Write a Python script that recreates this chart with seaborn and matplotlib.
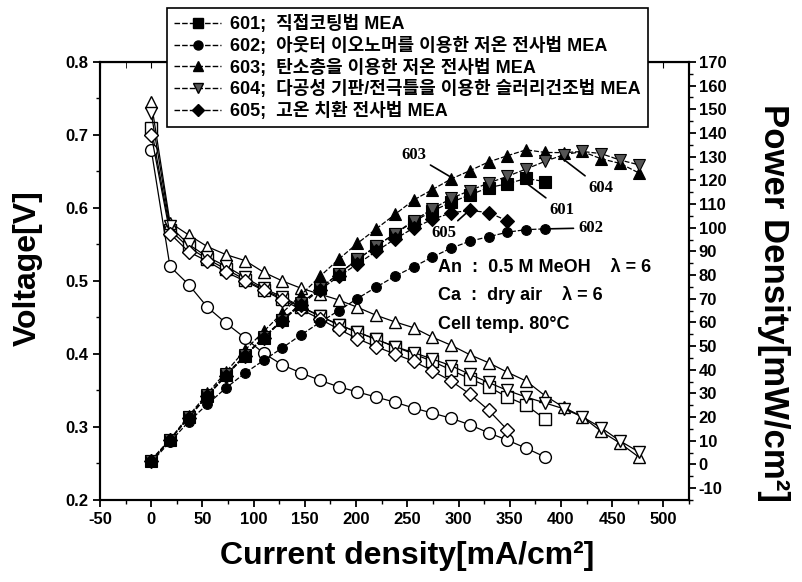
import matplotlib
matplotlib.use('Agg')
import matplotlib.pyplot as plt
import seaborn as sns
from matplotlib.lines import Line2D
from matplotlib.ticker import MultipleLocator

# current density [mA/cm2] of each sample
cur_601 = [0, 18.3, 36.6, 54.9, 73.2, 91.5, 109.8, 128.1, 146.4, 164.7, 183.0, 201.3,
           219.6, 237.9, 256.2, 274.5, 292.8, 311.1, 329.4, 347.7, 366.0, 384.3]
cur_602 = [0, 18.3, 36.6, 54.9, 73.2, 91.5, 109.8, 128.1, 146.4, 164.7, 183.0, 201.3,
           219.6, 237.9, 256.2, 274.5, 292.8, 311.1, 329.4, 347.7, 366.0, 384.3]
cur_603 = [0, 18.3, 36.6, 54.9, 73.2, 91.5, 109.8, 128.1, 146.4, 164.7, 183.0, 201.3,
           219.6, 237.9, 256.2, 274.5, 292.8, 311.1, 329.4, 347.7, 366.0, 384.3,
           402.6, 420.9, 439.2, 457.5, 475.8]
cur_604 = [0, 18.3, 36.6, 54.9, 73.2, 91.5, 109.8, 128.1, 146.4, 164.7, 183.0, 201.3,
           219.6, 237.9, 256.2, 274.5, 292.8, 311.1, 329.4, 347.7, 366.0, 384.3,
           402.6, 420.9, 439.2, 457.5, 475.8]
cur_605 = [0, 18.3, 36.6, 54.9, 73.2, 91.5, 109.8, 128.1, 146.4, 164.7, 183.0, 201.3,
           219.6, 237.9, 256.2, 274.5, 292.8, 311.1, 329.4, 347.7]

# cell voltage [V]
volt_601 = [0.71, 0.57, 0.546, 0.53, 0.516, 0.502, 0.488, 0.476, 0.464, 0.452, 0.44, 0.43,
            0.42, 0.41, 0.40, 0.39, 0.378, 0.366, 0.355, 0.341, 0.33, 0.311]
volt_602 = [0.68, 0.52, 0.495, 0.464, 0.442, 0.422, 0.401, 0.385, 0.374, 0.364, 0.355, 0.348,
            0.341, 0.334, 0.326, 0.319, 0.312, 0.303, 0.292, 0.282, 0.271, 0.259]
volt_603 = [0.745, 0.58, 0.563, 0.547, 0.536, 0.528, 0.512, 0.50, 0.49, 0.482, 0.474, 0.464,
            0.453, 0.444, 0.436, 0.423, 0.412, 0.399, 0.388, 0.375, 0.363, 0.343,
            0.327, 0.314, 0.294, 0.278, 0.259]
volt_604 = [0.73, 0.575, 0.55, 0.533, 0.52, 0.505, 0.49, 0.478, 0.465, 0.452, 0.44, 0.43,
            0.42, 0.41, 0.402, 0.393, 0.384, 0.372, 0.361, 0.35, 0.341, 0.333,
            0.325, 0.314, 0.299, 0.281, 0.266]
volt_605 = [0.70, 0.565, 0.54, 0.527, 0.512, 0.50, 0.487, 0.474, 0.461, 0.448, 0.434, 0.421,
            0.41, 0.40, 0.39, 0.377, 0.363, 0.345, 0.323, 0.296]

# power density [mW/cm2]
pow_601 = [1.5, 10.4, 20.0, 29.1, 37.8, 45.9, 53.6, 61.0, 67.9, 74.4, 80.5, 86.6,
           92.2, 97.5, 102.5, 107.1, 110.7, 113.9, 116.9, 118.6, 120.8, 119.5]
pow_602 = [1.0, 9.5, 18.1, 25.5, 32.4, 38.6, 44.0, 49.3, 54.8, 60.0, 65.0, 70.1,
           74.9, 79.5, 83.5, 87.6, 91.4, 94.3, 96.2, 98.1, 99.2, 99.5]
pow_603 = [2.0, 10.6, 20.6, 30.0, 39.2, 48.3, 56.2, 64.1, 71.7, 79.4, 86.7, 93.4,
           99.5, 105.6, 111.7, 116.1, 120.6, 124.1, 127.8, 130.4, 132.9, 131.8,
           131.7, 132.2, 129.1, 127.2, 123.2]
pow_604 = [1.5, 10.5, 20.1, 29.3, 38.1, 46.2, 53.8, 61.2, 68.1, 74.4, 80.5, 86.6,
           92.2, 97.5, 103.0, 107.9, 112.4, 115.7, 118.9, 121.7, 124.8, 128.0,
           130.8, 132.2, 131.3, 128.6, 126.6]
pow_605 = [1.5, 10.3, 19.8, 28.9, 37.5, 45.8, 53.5, 60.7, 67.5, 73.8, 79.4, 84.7,
           90.0, 95.2, 99.9, 103.5, 106.3, 107.3, 106.4, 102.9]

codes = ['601', '602', '603', '604', '605']
names = ['직접코팅법 MEA',
         '아웃터 이오노머를 이용한 저온 전사법 MEA',
         '탄소층을 이용한 저온 전사법 MEA',
         '다공성 기판/전극틀을 이용한 슬러리건조법 MEA',
         '고온 치환 전사법 MEA']

sns.set_style('ticks')
plt.rcParams['font.family'] = ['Liberation Sans', 'Noto Sans CJK KR', 'DejaVu Sans']
plt.rcParams['font.weight'] = 'bold'
plt.rcParams['axes.unicode_minus'] = False
for key in ['text.color', 'axes.labelcolor', 'xtick.color', 'ytick.color', 'axes.edgecolor']:
    plt.rcParams[key] = 'black'

fig = plt.figure(figsize=(8.02, 5.82), dpi=100)
ax = fig.add_axes([0.1247, 0.1409, 0.7344, 0.7526])
ax2 = ax.twinx()

series = [(cur_601, volt_601, pow_601, 's', 'black'),
          (cur_602, volt_602, pow_602, 'o', 'black'),
          (cur_603, volt_603, pow_603, '^', 'black'),
          (cur_604, volt_604, pow_604, 'v', '#555555'),
          (cur_605, volt_605, pow_605, 'D', 'black')]

# voltage curves, open markers
for cur, volt, pw, mk, fc in series:
    ms = 7 if mk == 'D' else 8.5
    sns.lineplot(x=cur, y=volt, ax=ax, color='black', lw=0.9, marker=mk, ms=ms,
                 mfc='white', mec='black', mew=1.0, errorbar=None, sort=False)

# power curves, filled markers
for cur, volt, pw, mk, fc in series:
    ms = 7 if mk == 'D' else 8.5
    if mk == 'o':
        ms = 7
    sns.lineplot(x=cur, y=pw, ax=ax2, color='black', lw=0.9, marker=mk, ms=ms,
                 mfc=fc, mec='black', mew=0.8, errorbar=None, sort=False,
                 linestyle=(0, (4, 1.5)))

ax.set_xlim(-50, 525)
ax.set_ylim(0.2, 0.8)
ax2.set_ylim(-15, 170)
ax.set_xlabel('')
ax.set_ylabel('')
ax2.set_ylabel('')

ax.xaxis.set_major_locator(MultipleLocator(50))
ax.xaxis.set_minor_locator(MultipleLocator(25))
ax.yaxis.set_major_locator(MultipleLocator(0.1))
ax.yaxis.set_minor_locator(MultipleLocator(0.05))
ax2.yaxis.set_major_locator(MultipleLocator(10))
ax2.yaxis.set_minor_locator(MultipleLocator(5))
ax.set_yticks([0.2, 0.3, 0.4, 0.5, 0.6, 0.7, 0.8])
ax.set_yticklabels(['0.2', '0.3', '0.4', '0.5', '0.6', '0.7', '0.8'])
ax2.set_yticks(list(range(-10, 171, 10)))

for a in (ax, ax2):
    a.tick_params(which='major', length=5, width=1.3, labelsize=12, direction='out')
    a.tick_params(which='minor', length=3, width=1.0, direction='out')
    for s in a.spines.values():
        s.set_linewidth(1.5)
        s.set_visible(True)
        s.set_color('black')
ax2.tick_params(axis='y', labelsize=12, pad=2)

top = ax.secondary_xaxis('top')
top.xaxis.set_major_locator(MultipleLocator(50))
top.xaxis.set_minor_locator(MultipleLocator(25))
top.tick_params(which='both', direction='in', labeltop=False, length=4)

# axis titles
fig.text(0.035, 0.54, 'Voltage[V]', rotation=90, ha='center', va='center', fontsize=23)
fig.text(0.508, 0.045, 'Current density[mA/cm²]', ha='center', va='center', fontsize=23)
fig.text(0.964, 0.48, 'Power Density[mW/cm²]', rotation=270, ha='center', va='center',
         fontsize=25)

# condition text
ax.text(280, 0.518, 'An  :  0.5 M MeOH    λ = 6', fontsize=13, va='center')
ax.text(280, 0.481, 'Ca  :  dry air    λ = 6', fontsize=13, va='center')
ax.text(280, 0.440, 'Cell temp. 80°C', fontsize=13, va='center')

# series labels on the power curves
lab_kw = dict(fontsize=12, family=['Liberation Serif'], fontweight='bold',
              ha='center', va='center',
              arrowprops=dict(arrowstyle='-', lw=1.2, color='black', shrinkA=1, shrinkB=0))
ax2.annotate('603', xy=(294, 121), xytext=(256, 130.7), **lab_kw)
ax2.annotate('604', xy=(401, 129.4), xytext=(439, 116.8), **lab_kw)
ax2.annotate('601', xy=(362, 120.2), xytext=(401, 107.5), **lab_kw)
ax2.annotate('605', xy=(313, 108.3), xytext=(286, 97.8), **lab_kw)
ax2.annotate('602', xy=(385, 99.5), xytext=(429, 99.9), **lab_kw)

# legend
handles = []
for cur, volt, pw, mk, fc in series:
    handles.append(Line2D([0], [0], color='black', lw=1, marker=mk, ms=6.5,
                          mfc=fc, mec='black', linestyle=(0, (4, 1.5))))
labels = [c + ';  ' + n for c, n in zip(codes, names)]
leg = fig.legend(handles, labels, loc='upper left', bbox_to_anchor=(0.208, 0.986),
                 frameon=True, fancybox=False, edgecolor='black', framealpha=1,
                 prop=dict(family=['Liberation Sans', 'Noto Sans CJK KR'], weight='bold', size=13),
                 handlelength=2.6, handletextpad=0.5, labelspacing=0.2,
                 borderpad=0.4, borderaxespad=0)
leg.get_frame().set_linewidth(1.2)

fig.savefig('out.png', dpi=100)
